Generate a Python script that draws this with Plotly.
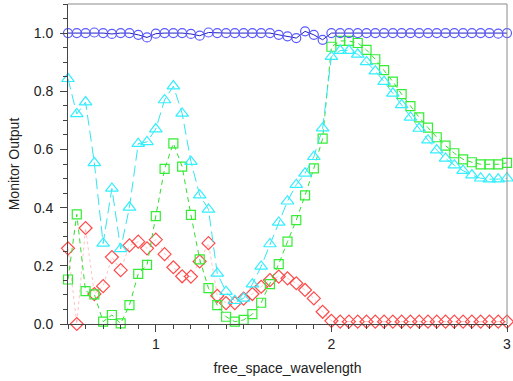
import plotly.graph_objects as go

# Wavelength samples (0.5 to 3.0 in steps of 0.05)
wavelength = [round(0.5 + 0.05 * i, 2) for i in range(51)]

transmission_total = [
    1.0, 1.0, 1.0, 1.002, 1.0, 0.997, 1.0, 1.0, 0.994, 0.985,
    0.998, 1.0, 1.0, 1.0, 0.997, 0.991, 1.002, 1.0, 1.0, 1.0,
    1.0, 1.0, 1.0, 1.0, 0.994, 0.989, 0.983, 1.006, 0.994, 0.977,
    1.0, 1.0, 1.0, 1.0, 1.0, 1.0, 1.0, 1.0, 1.0, 1.0,
    1.0, 1.0, 1.0, 1.0, 1.0, 1.0, 1.0, 1.0, 1.0, 0.998,
    1.0,
]

monitor_a = [
    0.843, 0.722, 0.763, 0.554, 0.277, 0.466, 0.258, 0.401, 0.620, 0.626,
    0.670, 0.770, 0.818, 0.724, 0.558, 0.443, 0.394, 0.174, 0.111, 0.080,
    0.088, 0.137, 0.198, 0.275, 0.349, 0.422, 0.479, 0.518, 0.575, 0.673,
    0.919, 0.940, 0.940, 0.927, 0.901, 0.869, 0.833, 0.793, 0.753, 0.710,
    0.672, 0.632, 0.598, 0.569, 0.546, 0.527, 0.512, 0.501, 0.498, 0.498,
    0.501,
]

monitor_b = [
    0.153, 0.377, 0.113, 0.102, 0.008, 0.031, 0.002, 0.065, 0.172, 0.203,
    0.371, 0.533, 0.621, 0.541, 0.375, 0.222, 0.123, 0.065, 0.025, 0.008,
    0.014, 0.034, 0.073, 0.137, 0.206, 0.283, 0.357, 0.442, 0.535, 0.637,
    0.953, 0.973, 0.973, 0.966, 0.942, 0.910, 0.873, 0.833, 0.790, 0.749,
    0.710, 0.675, 0.642, 0.613, 0.587, 0.566, 0.556, 0.549, 0.549, 0.549,
    0.554,
]

reflection = [
    0.260, 0.000, 0.330, 0.103, 0.130, 0.230, 0.185, 0.270, 0.283, 0.260,
    0.290, 0.240, 0.195, 0.164, 0.163, 0.215, 0.278, 0.097, 0.072, 0.072,
    0.087, 0.103, 0.128, 0.151, 0.163, 0.157, 0.140, 0.117, 0.088, 0.042,
    0.011, 0.008, 0.008, 0.008, 0.008, 0.008, 0.008, 0.008, 0.008, 0.008,
    0.008, 0.008, 0.008, 0.008, 0.008, 0.008, 0.008, 0.008, 0.008, 0.008,
    0.008,
]

x_ticks = [1, 2, 3]
y_ticks = [0.0, 0.2, 0.4, 0.6, 0.8, 1.0]

fig = go.Figure()

fig.add_trace(go.Scatter(
    x=wavelength, y=reflection, mode="lines+markers", cliponaxis=False,
    line=dict(color="rgba(255,120,120,0.45)", width=1, dash="dot"),
    marker=dict(symbol="diamond-open", size=10, color="#ff4a4a",
                line=dict(width=1.2, color="#ff4a4a")),
))
fig.add_trace(go.Scatter(
    x=wavelength, y=monitor_b, mode="lines+markers", cliponaxis=False,
    line=dict(color="#33dd33", width=1, dash="5px,4px"),
    marker=dict(symbol="square-open", size=9, color="#33ee33",
                line=dict(width=1.2, color="#33ee33")),
))
fig.add_trace(go.Scatter(
    x=wavelength, y=monitor_a, mode="lines+markers", cliponaxis=False,
    line=dict(color="#33e6f0", width=1, dash="11px,5px"),
    marker=dict(symbol="triangle-up-open", size=11, color="#33eeff",
                line=dict(width=1.2, color="#33eeff")),
))
fig.add_trace(go.Scatter(
    x=wavelength, y=transmission_total, mode="lines+markers", cliponaxis=False,
    line=dict(color="#2020c0", width=1),
    marker=dict(symbol="circle-open", size=9, color="#5a5aff",
                line=dict(width=1.2, color="#5a5aff")),
))

# light frame on the top and right sides
fig.add_shape(type="line", xref="paper", yref="paper", x0=0, x1=1, y0=1, y1=1,
              line=dict(color="#8a8a8a", width=1))
fig.add_shape(type="line", xref="paper", yref="paper", x0=1, x1=1, y0=0, y1=1,
              line=dict(color="#8a8a8a", width=1))

font = "Liberation Sans, Arial, sans-serif"
fig.update_layout(
    width=513, height=381,
    margin=dict(l=68, r=2, t=4, b=57),
    paper_bgcolor="white", plot_bgcolor="white",
    showlegend=False,
    font=dict(family=font, size=14, color="#222"),
    xaxis=dict(
        range=[0.5, 3.0], tickvals=x_ticks, ticktext=[str(v) for v in x_ticks],
        showgrid=False, zeroline=False, showline=True, linecolor="#444",
        linewidth=1, ticks="outside", ticklen=7, tickcolor="#444",
        ticklabeloverflow="allow",
        minor=dict(dtick=0.1, tick0=0.5, ticks="outside", ticklen=4, tickcolor="#444"),
        title=dict(text="free_space_wavelength", font=dict(size=14), standoff=12),
        tickfont=dict(size=14),
    ),
    yaxis=dict(
        range=[0, 1.1], tickvals=y_ticks, ticktext=[f"{v:.1f}" for v in y_ticks],
        showgrid=False, zeroline=False, showline=True, linecolor="#444",
        linewidth=1, ticks="outside", ticklen=7, tickcolor="#444",
        ticklabelstandoff=4,
        minor=dict(dtick=0.05, tick0=0, ticks="outside", ticklen=4, tickcolor="#444"),
        title=dict(text="Monitor Output", font=dict(size=14), standoff=10),
        tickfont=dict(size=14),
    ),
)

fig.write_html("out.html")
